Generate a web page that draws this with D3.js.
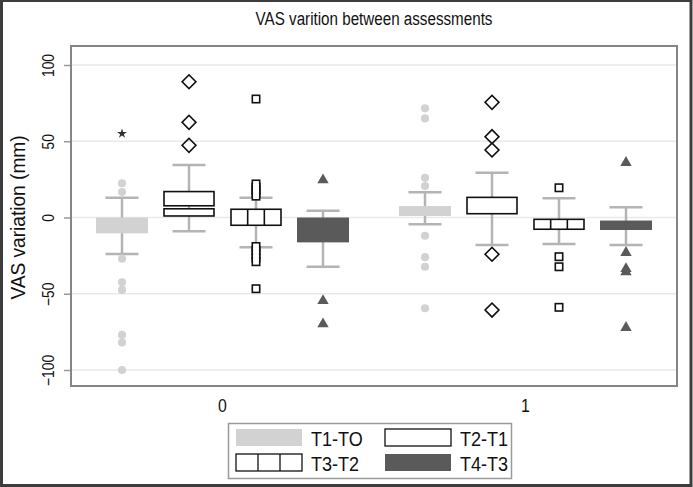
<!DOCTYPE html>
<meta charset="utf-8">
<script src="https://d3js.org/d3.v7.min.js"></script>
<style>
  body { margin: 0; background: #fff; }
  text { font-family: "Liberation Sans", Arial, Helvetica, sans-serif; fill: #111; }
</style>
<div id="chart"></div>
<script>
// data: one entry per series, each holding [group 0, group 1]
var groups = ["0", "1"];
var series = ["T1-TO", "T2-T1", "T3-T2", "T4-T3"];
var yTicks = [-100, -50, 0, 50, 100];

var lowerWhisker = [[-24, -4.5], [-9, -18], [-19.5, -17.4], [-32.3, -18]];
var lowerQuart   = [[-10.4, 1], [1, 0], [-5.1, -7.7], [-16.3, -8.2]];
var median       = [[-3, 4], [6.7, 1.5], [0, -4], [-8, -5]];
var upperQuart   = [[0, 7.5], [17, 13.2], [5.4, -1.2], [0, -2]];
var upperWhisker = [[13, 16.5], [34.4, 29.4], [13, 12.6], [4.5, 6.7]];

var outliers = [
  [[22.4, 16.7, -27, -42.5, -47.5, -77, -82, -100], [71.6, 65, 26, 20.6, -12, -26, -32.3, -59.5]],
  [[89, 62.4, 47.3], [75.5, 53, 44.3, -24.1, -60.7]],
  [[77.7, 22, 20, 18, 16, 14, -19, -21.5, -24, -26.5, -29, -46.7], [19.5, -25.7, -32.3, -58.9]],
  [[25.2, -53.9, -69.2], [36.6, -22.4, -33, -35, -71.6]]
];
// the single starred point (T1-TO, group 0)
var starValues = [55];

var W = 693, H = 487;
var plot = {left: 71, right: 677, top: 46, bottom: 386};

var lightGray = "#d2d2d2", darkGray = "#5a5a5a", whiskerGray = "#b4b4b4";

var svg = d3.select("#chart")
  .append("svg")
    .attr("width", W)
    .attr("height", H);

// condensed-looking text (no narrow font installed, so squeeze horizontally)
function label(parent, x, y, str, size, sx, rot, anchor) {
  return parent.append("text")
    .attr("transform", "translate(" + x + "," + y + ")" + (rot ? " rotate(" + rot + ")" : "") + " scale(" + sx + ",1)")
    .attr("text-anchor", anchor || "middle")
    .style("font-size", size + "px")
    .text(str);
}

// scales
var y = d3.scaleLinear()
  .domain([-100, 100])
  .range([370, 65]);

var xGroup = d3.scaleBand()
  .domain(groups)
  .range([plot.left, plot.right]);

var xSeries = d3.scalePoint()
  .domain(series)
  .range([-100.5, 100.5]);

function cx(si, gi) {
  return xGroup(groups[gi]) + xGroup.bandwidth() / 2 + xSeries(series[si]);
}

// gridlines
svg.append("g")
  .selectAll("line")
  .data(yTicks)
  .join("line")
    .attr("x1", plot.left)
    .attr("x2", plot.right)
    .attr("y1", d => y(d))
    .attr("y2", d => y(d))
    .attr("stroke", "#e9e9e9")
    .attr("stroke-width", 1.6);

// y axis
var yAxis = svg.append("g")
  .attr("transform", "translate(" + plot.left + ",0)")
  .call(d3.axisLeft(y).tickValues(yTicks).tickSize(7));
yAxis.select(".domain").remove();
yAxis.selectAll(".tick line").attr("stroke", "#999").attr("stroke-width", 1.5);
yAxis.selectAll(".tick text")
  .attr("transform", "rotate(-90) scale(0.84,1)")
  .attr("x", 0)
  .attr("y", -17)
  .attr("dy", 0)
  .attr("text-anchor", "middle")
  .attr("fill", "#111")
  .style("font-size", "16.5px")
  .style("font-family", "Liberation Sans, Arial, sans-serif");

// x axis (group labels only)
var xAxis = svg.append("g")
  .attr("transform", "translate(0," + plot.bottom + ")")
  .call(d3.axisBottom(xGroup).tickSize(0));
xAxis.select(".domain").remove();
xAxis.selectAll(".tick text")
  .attr("transform", "translate(0,26) scale(0.88,1)")
  .attr("y", 0)
  .attr("dy", 0)
  .attr("fill", "#111")
  .style("font-size", "18px")
  .style("font-family", "Liberation Sans, Arial, sans-serif");

// boxes
var boxW = 52, capW = 33;
series.forEach(function(s, si) {
  groups.forEach(function(g, gi) {
    var x0 = cx(si, gi);
    var gBox = svg.append("g");

    // whiskers
    gBox.append("line")
      .attr("x1", x0).attr("x2", x0)
      .attr("y1", y(upperWhisker[si][gi])).attr("y2", y(lowerWhisker[si][gi]))
      .attr("stroke", whiskerGray).attr("stroke-width", 2.5);
    [upperWhisker[si][gi], lowerWhisker[si][gi]].forEach(function(v) {
      gBox.append("line")
        .attr("x1", x0 - capW / 2).attr("x2", x0 + capW / 2)
        .attr("y1", y(v)).attr("y2", y(v))
        .attr("stroke", whiskerGray).attr("stroke-width", 2.5);
    });

    var top = y(upperQuart[si][gi]), bot = y(lowerQuart[si][gi]);
    if (si === 0 || si === 3) {
      gBox.append("rect")
        .attr("x", x0 - boxW / 2).attr("width", boxW)
        .attr("y", top).attr("height", bot - top)
        .attr("fill", si === 0 ? lightGray : darkGray);
    } else if (si === 1) {
      var m = y(median[si][gi]);
      gBox.append("rect")
        .attr("x", x0 - boxW / 2 + 1).attr("width", boxW - 2)
        .attr("y", top).attr("height", m - 1.5 - top)
        .attr("fill", "#fff").attr("stroke", "#111").attr("stroke-width", 1.6);
      if (bot - (m + 1.5) > 1) {
        gBox.append("rect")
          .attr("x", x0 - boxW / 2 + 1).attr("width", boxW - 2)
          .attr("y", m + 1.5).attr("height", bot - m - 1.5)
          .attr("fill", "#fff").attr("stroke", "#111").attr("stroke-width", 1.6);
      }
    } else {
      gBox.append("rect")
        .attr("x", x0 - boxW / 2 + 1).attr("width", boxW - 2)
        .attr("y", top).attr("height", bot - top)
        .attr("fill", "#fff").attr("stroke", "#111").attr("stroke-width", 1.6);
      [1, 2].forEach(function(k) {
        var xx = x0 - boxW / 2 + 1 + k * (boxW - 2) / 3;
        gBox.append("line")
          .attr("x1", xx).attr("x2", xx).attr("y1", top).attr("y2", bot)
          .attr("stroke", "#111").attr("stroke-width", 1.6);
      });
    }
  });
});

// outliers
var circleSym = d3.symbol().type(d3.symbolCircle).size(52);
var diamondSym = d3.symbol().type(d3.symbolSquare).size(96);
var triSym = d3.symbol().type(d3.symbolTriangle).size(56);
var starSym = d3.symbol().type(d3.symbolStar).size(30);

groups.forEach(function(g, gi) {
  // T1-TO: gray dots
  svg.append("g").selectAll("path")
    .data(outliers[0][gi])
    .join("path")
      .attr("transform", d => "translate(" + cx(0, gi) + "," + y(d) + ")")
      .attr("d", circleSym)
      .attr("fill", lightGray);

  // T2-T1: hollow diamonds
  svg.append("g").selectAll("path")
    .data(outliers[1][gi])
    .join("path")
      .attr("transform", d => "translate(" + cx(1, gi) + "," + y(d) + ") rotate(45)")
      .attr("d", diamondSym)
      .attr("fill", "none")
      .attr("stroke", "#111")
      .attr("stroke-width", 1.6);

  // T3-T2: hollow squares (outline pass, then fill pass so stacks merge)
  var sq = svg.append("g");
  sq.selectAll("rect.o")
    .data(outliers[2][gi])
    .join("rect")
      .attr("class", "o")
      .attr("x", cx(2, gi) - 4.5).attr("width", 9)
      .attr("y", d => y(d) - 4.5).attr("height", 9)
      .attr("fill", "#111");
  sq.selectAll("rect.i")
    .data(outliers[2][gi])
    .join("rect")
      .attr("class", "i")
      .attr("x", cx(2, gi) - 2.9).attr("width", 5.8)
      .attr("y", d => y(d) - 2.9).attr("height", 5.8)
      .attr("fill", "#fff");

  // T4-T3: dark triangles
  svg.append("g").selectAll("path")
    .data(outliers[3][gi])
    .join("path")
      .attr("transform", d => "translate(" + cx(3, gi) + "," + (y(d) + 1) + ")")
      .attr("d", triSym)
      .attr("fill", darkGray);
});

svg.append("g").selectAll("path")
  .data(starValues)
  .join("path")
    .attr("transform", d => "translate(" + cx(0, 0) + "," + y(d) + ")")
    .attr("d", starSym)
    .attr("fill", "#333");

// plot frame
svg.append("rect")
  .attr("x", plot.left).attr("y", plot.top)
  .attr("width", plot.right - plot.left).attr("height", plot.bottom - plot.top)
  .attr("fill", "none").attr("stroke", "#858585").attr("stroke-width", 2);

// titles
label(svg, (plot.left + plot.right) / 2, 25, "VAS varition between assessments", 19, 0.8);
label(svg, 25, y(0), "VAS variation (mm)", 19.5, 0.98, -90);

// legend
var legend = svg.append("g");
legend.append("rect")
  .attr("x", 228.5).attr("y", 423.5).attr("width", 283).attr("height", 55)
  .attr("fill", "#fff").attr("stroke", "#9a9a9a").attr("stroke-width", 1.5);

var swW = 66, swH = 17;
var legPos = [[236, 429], [385, 429], [236, 454], [385, 454]];
series.forEach(function(s, si) {
  var lx = legPos[si][0], ly = legPos[si][1];
  var cell = legend.append("g");
  if (si === 0 || si === 3) {
    cell.append("rect").attr("x", lx).attr("y", ly).attr("width", swW).attr("height", swH)
      .attr("fill", si === 0 ? lightGray : darkGray);
  } else {
    cell.append("rect").attr("x", lx).attr("y", ly).attr("width", swW).attr("height", swH)
      .attr("fill", "#fff").attr("stroke", "#111").attr("stroke-width", 1.3);
    if (si === 2) {
      [1, 2].forEach(function(k) {
        cell.append("line")
          .attr("x1", lx + k * swW / 3).attr("x2", lx + k * swW / 3)
          .attr("y1", ly).attr("y2", ly + swH)
          .attr("stroke", "#111").attr("stroke-width", 1.3);
      });
    }
  }
  label(cell, lx + 75, ly + 17, s, 21, 0.86, 0, "start");
});

// outer dark border
svg.append("rect")
  .attr("x", 1.5).attr("y", 0.5).attr("width", W - 3.5).attr("height", H - 2)
  .attr("fill", "none").attr("stroke", "#3c3c3c").attr("stroke-width", 3);
</script>
